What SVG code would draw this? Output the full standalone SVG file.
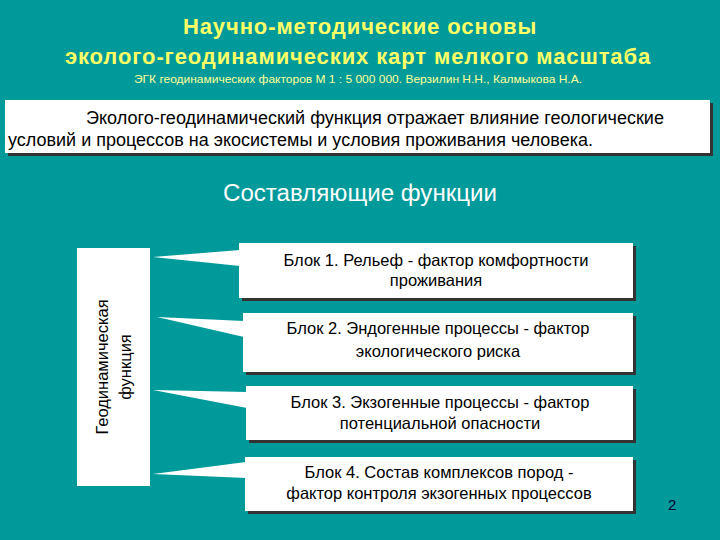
<svg xmlns="http://www.w3.org/2000/svg" width="720" height="540" viewBox="0 0 720 540">
<style>
text{font-family:"Liberation Sans",Arial,sans-serif}
.box{fill:#fff}
.sh{fill:#333}
.bt{font-size:16.5px;fill:#000;text-anchor:middle}
.ti{font-size:22px;font-weight:bold;fill:#ffff66;text-anchor:middle;letter-spacing:0.9px}
</style>
<rect width="720" height="540" fill="#009a9a"/>
<text class="ti" x="360" y="34">Научно-методические основы</text>
<text class="ti" x="358" y="64">эколого-геодинамических карт мелкого масштаба</text>
<text x="358" y="83" font-size="11" fill="#ffff99" text-anchor="middle" textLength="448" lengthAdjust="spacingAndGlyphs">ЭГК геодинамических факторов М 1 : 5 000 000. Верзилин Н.Н., Калмыкова Н.А.</text>
<g id="info">
<rect class="sh" x="8" y="103" width="705" height="53"/>
<rect class="box" x="5" y="100" width="705" height="53"/>
<text x="86" y="124" font-size="17.5" textLength="578" lengthAdjust="spacingAndGlyphs">Эколого-геодинамический функция отражает влияние геологические</text>
<text x="8" y="146" font-size="17.5" textLength="585" lengthAdjust="spacingAndGlyphs">условий и процессов на экосистемы и условия проживания человека.</text>
</g>
<text x="360" y="201" font-size="23.5" fill="#fff" text-anchor="middle" textLength="274" lengthAdjust="spacingAndGlyphs">Составляющие функции</text>
<g id="connectors" fill="#fff">
<polygon points="153,257 240,250 240,266"/>
<polygon points="157,317 244,321 244,337"/>
<polygon points="153,390 247,392 247,408"/>
<polygon points="153,474 246,462 246,478"/>
</g>
<g id="func">
<rect class="box" x="77" y="248" width="73" height="238"/>
<text class="bt" transform="translate(108,367) rotate(-90)" font-size="17">Геодинамическая</text>
<text class="bt" transform="translate(131,367) rotate(-90)" font-size="17">функция</text>
</g>
<g id="b1">
<rect class="sh" x="242" y="246" width="394" height="55"/>
<rect class="box" x="239" y="243" width="394" height="55"/>
<text class="bt" x="436" y="266">Блок 1. Рельеф - фактор комфортности</text>
<text class="bt" x="436" y="286">проживания</text>
</g>
<g id="b2">
<rect class="sh" x="246" y="316" width="390" height="59"/>
<rect class="box" x="243" y="313" width="390" height="59"/>
<text class="bt" x="438" y="334">Блок 2. Эндогенные процессы - фактор</text>
<text class="bt" x="438" y="357">экологического риска</text>
</g>
<g id="b3">
<rect class="sh" x="249" y="389" width="387" height="54"/>
<rect class="box" x="246" y="386" width="387" height="54"/>
<text class="bt" x="440" y="408">Блок 3. Экзогенные процессы - фактор</text>
<text class="bt" x="440" y="429">потенциальной опасности</text>
</g>
<g id="b4">
<rect class="sh" x="248" y="460" width="388" height="54"/>
<rect class="box" x="245" y="457" width="388" height="54"/>
<text class="bt" x="439" y="478">Блок 4. Состав комплексов пород -</text>
<text class="bt" x="439" y="499">фактор контроля экзогенных процессов</text>
</g>
<text x="668" y="510" font-size="15" fill="#000033">2</text>
</svg>
